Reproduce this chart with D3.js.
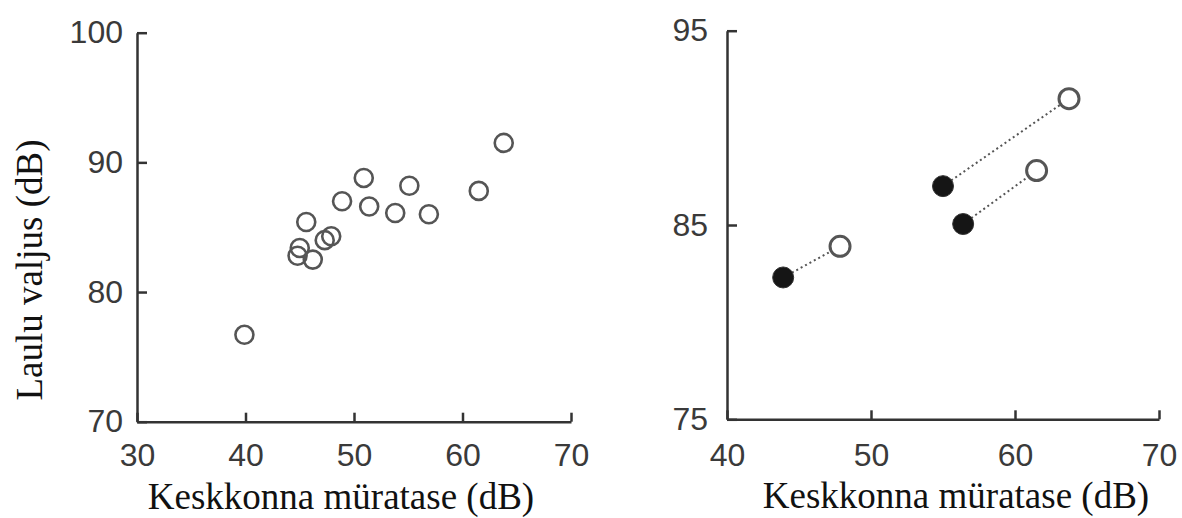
<!DOCTYPE html>
<meta charset="utf-8">
<head>
  <title>Laulu valjus</title>
  <script src="https://d3js.org/d3.v7.min.js"></script>
  <style>
    body { margin: 0; background: #fff; }
    .tick text { font-family: "Liberation Sans", Arial, sans-serif; font-size: 32px; fill: #3a3a3a; }
    .axis path, .axis line { stroke: #333; stroke-width: 2.5; }
    .title { font-family: "Liberation Serif", "Times New Roman", serif; font-size: 37px; fill: #111; }
  </style>
</head>
<body>
<div id="display"></div>
<script>

// left panel: noise level vs song loudness
var leftNoise = [39.9, 44.8, 45.0, 45.6, 46.2, 47.3, 47.9, 48.9, 50.9, 51.4, 53.8, 55.1, 56.9, 61.5, 63.8];
var leftSong  = [76.7, 82.8, 83.4, 85.4, 82.5, 84.0, 84.3, 87.0, 88.8, 86.6, 86.1, 88.2, 86.0, 87.8, 91.5];
var leftXTicks = [30, 40, 50, 60, 70];
var leftYTicks = [70, 80, 90, 100];

// right panel: same birds, quiet (filled) vs noisy (open)
var quietNoise = [43.9, 55.0, 56.4];
var quietSong  = [82.3, 87.0, 85.05];
var noisyNoise = [47.85, 63.75, 61.5];
var noisySong  = [83.9, 91.5, 87.8];
var rightXTicks = [40, 50, 60, 70];
var rightYTicks = [75, 85, 95];

var xLabel = "Keskkonna müratase (dB)";
var yLabel = "Laulu valjus (dB)";

var svg = d3.select("#display")
  .append("svg")
    .attr("width", 1182)
    .attr("height", 518);

// ---- left panel
var x1 = d3.scaleLinear().domain([30, 70]).range([137, 571]);
var y1 = d3.scaleLinear().domain([70, 100]).range([421.7, 32.7]);

svg.append("g")
  .attr("class", "axis")
  .attr("transform", "translate(0," + y1(70) + ")")
  .call(d3.axisBottom(x1).tickValues(leftXTicks).tickSizeInner(-9).tickSizeOuter(0).tickPadding(22));

svg.append("g")
  .attr("class", "axis")
  .attr("transform", "translate(" + x1(30) + ",0)")
  .call(d3.axisLeft(y1).tickValues(leftYTicks).tickSizeInner(-10).tickSizeOuter(0).tickPadding(14));

var leftPts = leftNoise.map(function(d, i) { return {x: d, y: leftSong[i]}; });

svg.selectAll(".leftPt")
  .data(leftPts)
  .enter()
  .append("circle")
    .attr("class", "leftPt")
    .attr("cx", function(d) { return x1(d.x); })
    .attr("cy", function(d) { return y1(d.y); })
    .attr("r", 9)
    .attr("fill", "none")
    .attr("stroke", "#555")
    .attr("stroke-width", 2.6);

svg.append("text")
  .attr("class", "title")
  .attr("x", 341)
  .attr("y", 509)
  .attr("text-anchor", "middle")
  .text(xLabel);

svg.append("text")
  .attr("class", "title")
  .attr("transform", "translate(42,270) rotate(-90)")
  .attr("text-anchor", "middle")
  .text(yLabel);

// ---- right panel
var x2 = d3.scaleLinear().domain([40, 70]).range([727, 1159]);
var y2 = d3.scaleLinear().domain([75, 95]).range([419.3, 30.7]);

svg.append("g")
  .attr("class", "axis")
  .attr("transform", "translate(0," + y2(75) + ")")
  .call(d3.axisBottom(x2).tickValues(rightXTicks).tickSizeInner(-9).tickSizeOuter(0).tickPadding(24));

svg.append("g")
  .attr("class", "axis")
  .attr("transform", "translate(" + x2(40) + ",0)")
  .call(d3.axisLeft(y2).tickValues(rightYTicks).tickSizeInner(-10).tickSizeOuter(0).tickPadding(19));

var pairs = quietNoise.map(function(d, i) {
  return {x0: d, y0: quietSong[i], x1: noisyNoise[i], y1: noisySong[i]};
});

svg.selectAll(".pairLine")
  .data(pairs)
  .enter()
  .append("line")
    .attr("class", "pairLine")
    .attr("x1", function(d) { return x2(d.x0); })
    .attr("y1", function(d) { return y2(d.y0); })
    .attr("x2", function(d) { return x2(d.x1); })
    .attr("y2", function(d) { return y2(d.y1); })
    .attr("stroke", "#555")
    .attr("stroke-width", 2)
    .attr("stroke-dasharray", "2,3");

svg.selectAll(".noisyPt")
  .data(pairs)
  .enter()
  .append("circle")
    .attr("class", "noisyPt")
    .attr("cx", function(d) { return x2(d.x1); })
    .attr("cy", function(d) { return y2(d.y1); })
    .attr("r", 10)
    .attr("fill", "#fff")
    .attr("stroke", "#555")
    .attr("stroke-width", 3);

svg.selectAll(".quietPt")
  .data(pairs)
  .enter()
  .append("circle")
    .attr("class", "quietPt")
    .attr("cx", function(d) { return x2(d.x0); })
    .attr("cy", function(d) { return y2(d.y0); })
    .attr("r", 10.5)
    .attr("fill", "#151515")
    .attr("stroke", "#333")
    .attr("stroke-width", 1);

svg.append("text")
  .attr("class", "title")
  .attr("x", 956)
  .attr("y", 508)
  .attr("text-anchor", "middle")
  .text(xLabel);

</script>
</body>
